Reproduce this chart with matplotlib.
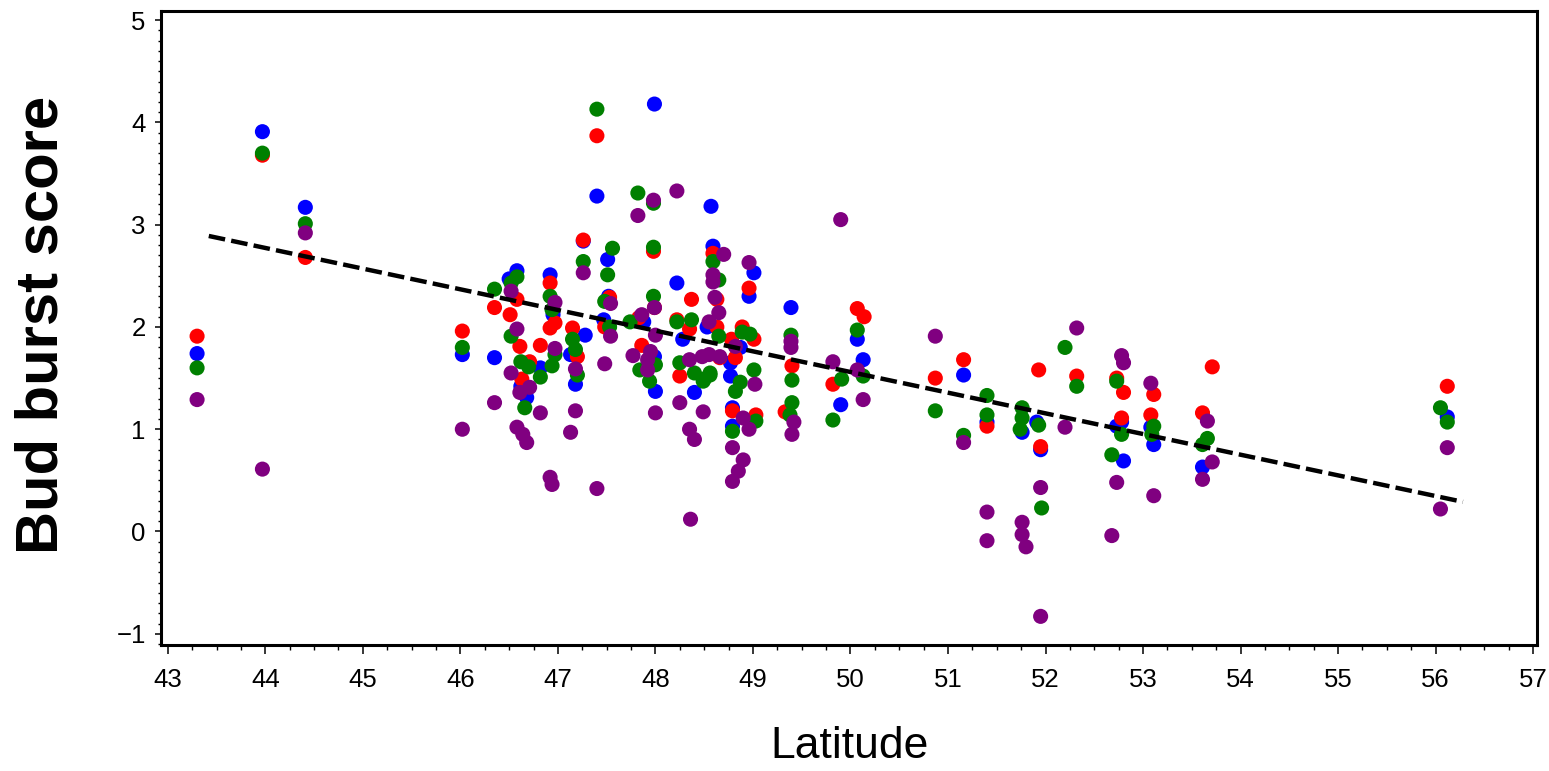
import matplotlib
matplotlib.use("Agg")
import matplotlib.pyplot as plt
from matplotlib.ticker import MultipleLocator

# ---------------- data ----------------
blue_lat = [43.30, 43.97, 44.41, 46.02, 46.35, 46.50, 46.58, 46.62, 46.68, 46.82,
            46.92, 46.95, 47.13, 47.18, 47.26, 47.28, 47.40, 47.52, 47.47, 47.51,
            47.99, 47.88, 47.99, 48.00, 48.22, 48.28, 48.40, 48.57, 48.59, 48.53,
            48.77, 48.87, 48.77, 48.79, 48.79, 49.01, 48.96, 49.39, 49.90, 50.07,
            50.13, 51.16, 51.40, 51.76, 51.91, 51.95, 52.78, 52.73, 52.80, 53.08,
            53.11, 53.61, 56.12]
blue_score = [1.74, 3.91, 3.17, 1.73, 1.70, 2.47, 2.55, 1.42, 1.31, 1.60,
              2.51, 2.12, 1.73, 1.44, 2.84, 1.92, 3.28, 2.30, 2.07, 2.66,
              4.18, 2.05, 1.71, 1.37, 2.43, 1.88, 1.36, 3.18, 2.79, 2.00,
              1.65, 1.80, 1.52, 1.21, 1.03, 2.53, 2.30, 2.19, 1.24, 1.88,
              1.68, 1.53, 1.07, 0.97, 1.07, 0.80, 1.07, 1.03, 0.69, 1.02,
              0.85, 0.63, 1.12]

red_lat = [43.30, 43.97, 44.41, 46.02, 46.35, 46.58, 46.51, 46.61, 46.71, 46.63,
           46.82, 46.92, 46.97, 46.92, 47.15, 47.20, 47.26, 47.40, 47.53, 47.48,
           47.86, 47.98, 47.99, 47.83, 48.22, 48.37, 48.35, 48.25, 48.59, 48.63,
           48.63, 48.66, 48.78, 48.82, 48.89, 49.01, 48.96, 48.79, 49.03, 49.40,
           49.33, 49.82, 50.07, 50.14, 50.87, 51.16, 51.40, 51.93, 51.95, 52.32,
           52.73, 52.80, 52.78, 53.11, 53.08, 53.71, 53.61, 56.12]
red_score = [1.91, 3.68, 2.68, 1.96, 2.19, 2.27, 2.12, 1.81, 1.66, 1.49,
             1.82, 2.43, 2.04, 1.99, 1.99, 1.71, 2.85, 3.87, 2.29, 2.00,
             1.82, 2.74, 2.19, 2.09, 2.07, 2.27, 1.98, 1.52, 2.72, 2.27,
             2.00, 1.70, 1.88, 1.70, 2.00, 1.88, 2.38, 1.18, 1.14, 1.62,
             1.17, 1.44, 2.18, 2.10, 1.50, 1.68, 1.03, 1.58, 0.83, 1.52,
             1.50, 1.36, 1.11, 1.34, 1.14, 1.61, 1.16, 1.42]

green_lat = [43.30, 43.97, 44.41, 46.02, 46.35, 46.58, 46.52, 46.52, 46.62, 46.70,
             46.66, 46.82, 46.92, 46.94, 46.97, 46.94, 47.15, 47.18, 47.20, 47.26,
             47.40, 47.48, 47.53, 47.56, 47.51, 47.82, 47.98, 47.98, 47.98, 47.74,
             47.84, 47.94, 48.00, 48.22, 48.37, 48.25, 48.40, 48.50, 48.56, 48.59,
             48.65, 48.65, 48.56, 48.49, 48.87, 48.82, 48.89, 48.97, 49.01, 49.03,
             48.79, 49.39, 49.40, 49.40, 49.38, 49.82, 49.91, 50.07, 50.13, 50.87,
             51.16, 51.40, 51.40, 51.76, 51.76, 51.74, 51.93, 51.96, 52.20, 52.32,
             52.73, 52.78, 52.68, 53.11, 53.09, 53.66, 53.61, 56.05, 56.12]
green_score = [1.60, 3.70, 3.01, 1.80, 2.37, 2.49, 2.43, 1.91, 1.66, 1.61,
               1.21, 1.51, 2.30, 2.17, 1.73, 1.62, 1.88, 1.78, 1.53, 2.64,
               4.13, 2.25, 2.00, 2.77, 2.51, 3.31, 3.21, 2.78, 2.30, 2.05,
               1.58, 1.47, 1.63, 2.05, 2.07, 1.65, 1.55, 1.49, 1.55, 2.64,
               2.46, 1.91, 1.53, 1.47, 1.46, 1.37, 1.95, 1.93, 1.58, 1.08,
               0.98, 1.92, 1.48, 1.26, 1.14, 1.09, 1.49, 1.97, 1.52, 1.18,
               0.94, 1.33, 1.14, 1.21, 1.11, 1.00, 1.04, 0.23, 1.80, 1.42,
               1.47, 0.95, 0.75, 1.03, 0.95, 0.91, 0.85, 1.21, 1.07]

purple_lat = [43.30, 43.97, 44.41, 46.02, 46.35, 46.52, 46.58, 46.52, 46.71, 46.61,
              46.82, 46.58, 46.64, 46.68, 46.97, 46.97, 46.92, 46.94, 47.18, 47.18,
              47.13, 47.26, 47.40, 47.54, 47.54, 47.48, 47.82, 47.98, 48.22, 47.86,
              47.99, 48.00, 47.77, 47.95, 47.92, 47.92, 48.00, 48.25, 48.35, 48.48,
              48.61, 48.70, 48.59, 48.59, 48.65, 48.55, 48.66, 48.55, 48.82, 48.96,
              49.02, 48.49, 48.35, 48.40, 48.90, 48.96, 48.79, 48.90, 48.85, 48.79,
              48.36, 49.39, 49.39, 49.42, 49.40, 49.82, 49.90, 50.07, 50.13, 50.87,
              51.16, 51.40, 51.40, 51.95, 51.76, 51.76, 51.80, 51.95, 52.20, 52.32,
              52.78, 52.80, 52.73, 52.68, 53.08, 53.11, 53.66, 53.71, 53.61, 56.12,
              56.05]
purple_score = [1.29, 0.61, 2.92, 1.00, 1.26, 2.35, 1.98, 1.55, 1.41, 1.36,
                1.16, 1.02, 0.95, 0.87, 2.24, 1.79, 0.53, 0.46, 1.59, 1.18,
                0.97, 2.53, 0.42, 2.23, 1.91, 1.64, 3.09, 3.24, 3.33, 2.12,
                2.19, 1.92, 1.72, 1.76, 1.68, 1.58, 1.16, 1.26, 1.68, 1.71,
                2.29, 2.71, 2.51, 2.44, 2.14, 2.05, 1.71, 1.73, 1.81, 2.63,
                1.44, 1.17, 1.00, 0.90, 1.11, 1.00, 0.82, 0.70, 0.59, 0.49,
                0.12, 1.86, 1.80, 1.07, 0.95, 1.66, 3.05, 1.58, 1.29, 1.91,
                0.87, 0.19, -0.09, 0.43, 0.09, -0.03, -0.15, -0.83, 1.02, 1.99,
                1.72, 1.65, 0.48, -0.04, 1.45, 0.35, 1.08, 0.68, 0.51, 0.82,
                0.22]

# fitted regression line end points
fit_lat = [43.42, 56.28]
fit_score = [2.89, 0.29]

x_ticks = list(range(43, 58))
y_ticks = [-1, 0, 1, 2, 3, 4, 5]

# ---------------- figure ----------------
W, H = 1549, 771
fig = plt.figure(figsize=(W / 100, H / 100), dpi=100)
ax = fig.add_axes([161 / W, 1 - 645 / H, (1537 - 161) / W, (645 - 11) / H])

series = [
    (blue_lat, blue_score, "#0000FF"),
    (red_lat, red_score, "#FF0000"),
    (green_lat, green_score, "#008000"),
    (purple_lat, purple_score, "#800080"),
]
for lat, sc, col in series:
    ax.scatter(lat, sc, s=118, color=col, edgecolors="none", zorder=3)

ax.plot(fit_lat, fit_score, color="black", lw=3.2, dashes=[3.75, 1.4],
        zorder=4, solid_capstyle="butt", dash_capstyle="butt")

ax.set_xlim(42.93, 57.04)
ax.set_ylim(-1.11, 5.09)
ax.set_xticks(x_ticks)
ax.set_yticks(y_ticks)
ax.xaxis.set_minor_locator(MultipleLocator(0.25))
ax.yaxis.set_minor_locator(MultipleLocator(0.1))

tick_font = dict(family="Liberation Sans", size=18.5)
ax.set_xticklabels([str(v) for v in x_ticks], **tick_font)
ax.set_yticklabels(["\u22121" if v == -1 else str(v) for v in y_ticks], **tick_font)

ax.tick_params(axis="x", which="major", direction="out", length=6.5, width=1.1, pad=10)
ax.tick_params(axis="x", which="minor", direction="out", length=3.5, width=1.0)
ax.tick_params(axis="y", which="major", direction="out", length=4, width=1.1, pad=7)
ax.tick_params(axis="y", which="minor", direction="out", length=2, width=1.0)

for sp in ax.spines.values():
    sp.set_linewidth(2.2)

fig.text(42 / W, 1 - 325 / H, "Bud burst score", rotation=90, ha="center",
         va="center", family="Liberation Sans", weight="bold", size=43)
fig.text(850 / W, 1 - 747 / H, "Latitude", ha="center", va="center",
         family="Liberation Sans", size=32)

fig.savefig("out.png", dpi=100)
